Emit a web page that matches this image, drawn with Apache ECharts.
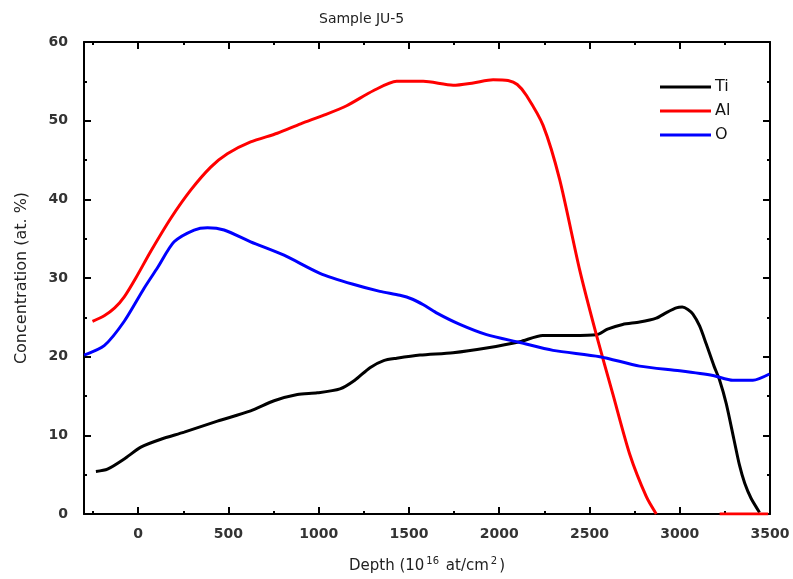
<!DOCTYPE html>
<html>
<head>
<meta charset="utf-8">
<script src="https://cdn.jsdelivr.net/npm/echarts@6/dist/echarts.min.js"></script>
<style>html,body{margin:0;padding:0;background:#fff}#c{width:793px;height:579px}</style>
</head>
<body>
<div id="c"></div>
<script>
// ---- data ----
var tiDepth = [-234,-170,-77,15,126,255,439,623,753,882,992,1118,1200,1284,1360,1432,1561,1744,1930,2114,2241,2400,2540,2600,2684,2778,2870,2926,2981,3014,3045,3073,3110,3147,3190,3221,3258,3300,3331,3360,3395,3442];
var tiConc  = [5.4,5.7,7.0,8.5,9.5,10.4,11.8,13.1,14.4,15.2,15.4,15.9,17.0,18.6,19.5,19.8,20.2,20.5,21.1,21.9,22.7,22.7,22.8,23.5,24.1,24.4,24.9,25.6,26.2,26.3,26.0,25.4,23.9,21.6,18.8,17.0,14.0,9.5,6.2,3.9,2.0,0.2];

var alDepth = [-253,-188,-130,-77,-13,70,181,292,402,494,623,771,900,1029,1155,1302,1432,1579,1745,1856,1966,2049,2100,2151,2243,2335,2446,2538,2630,2723,2815,2870,3000,3221,3490];
var alConc  = [24.5,25.2,26.2,27.6,30.0,33.4,37.6,41.2,44.1,45.8,47.3,48.4,49.6,50.7,51.9,53.8,55.0,55.0,54.5,54.8,55.2,55.1,54.6,53.2,49.4,42.5,31.0,22.8,15.2,7.6,2.2,0.0,null,0.0,0.0];

var oDepth = [-299,-188,-77,33,107,199,310,384,476,623,808,1007,1191,1339,1450,1520,1580,1650,1782,1930,2114,2298,2557,2778,3000,3184,3294,3405,3497];
var oConc  = [20.2,21.4,24.5,28.7,31.3,34.6,36.1,36.4,36.1,34.6,32.9,30.6,29.2,28.3,27.8,27.3,26.6,25.6,24.1,22.8,21.8,20.8,20.0,18.8,18.2,17.6,17.0,17.0,17.8];

var xMajorTicks = [0,500,1000,1500,2000,2500,3000,3500];
var xMinorTicks = [-250,250,750,1250,1750,2250,2750,3250];
var seriesNames = ['Ti','Al','O'];
var seriesColors = ['#000000','#ff0000','#0000ff'];

function pairs(xs, ys){
  return xs.map(function(x,i){ return [x, ys[i] === null ? '-' : ys[i]]; });
}

var chart = echarts.init(document.getElementById('c'));
var lineStyle = {color:'#000', width:2};
var plain = function(v){ return String(v); };

function xAx(pos, ticks, len, showLine, showLabel, extra){
  var a = {
    type:'value', position:pos, min:-300, max:3500,
    axisLine:{show:showLine, onZero:false, lineStyle:lineStyle},
    axisTick:{show:true, inside:true, length:len, customValues:ticks, lineStyle:{color:'#000', width:2}},
    axisLabel:{show:showLabel, customValues:ticks, formatter:plain, margin:13, fontFamily:'DejaVu Sans', fontSize:14, color:'#333', fontWeight:'bold'},
    splitLine:{show:false}
  };
  if (extra) for (var k in extra) a[k] = extra[k];
  return a;
}
function yAx(pos, showLabel, extra){
  var a = {
    type:'value', position:pos, min:0, max:60, interval:10,
    axisLine:{show:true, onZero:false, lineStyle:lineStyle},
    axisTick:{show:true, inside:true, length:7, lineStyle:{color:'#000', width:2}},
    minorTick:{show:true, splitNumber:2, length:3, lineStyle:{color:'#000', width:2}},
    axisLabel:{show:showLabel, formatter:plain, margin:16, fontFamily:'DejaVu Sans', fontSize:14, color:'#333', fontWeight:'bold'},
    splitLine:{show:false}
  };
  if (extra) for (var k in extra) a[k] = extra[k];
  return a;
}

var option = {
  animation:false,
  backgroundColor:'#fff',
  title:{text:'Sample JU-5', left:314, top:7, textStyle:{fontFamily:'DejaVu Sans', fontSize:14, fontWeight:'normal', color:'#222'}},
  grid:{left:84, right:23, top:42, bottom:62, containLabel:false},
  legend:{
    data:seriesNames, orient:'vertical', left:660, top:79, padding:0,
    icon:'rect', itemWidth:51, itemHeight:3, itemGap:8,
    textStyle:{fontFamily:'DejaVu Sans', fontSize:16, color:'#111', padding:[0,0,0,-1]}
  },
  xAxis:[
    xAx('bottom', xMajorTicks, 7, true, true, {
      name:'{n|Depth (10}{sup|16}{n| at/cm}{sup|2}{n|)}', nameLocation:'middle', nameGap:42,
      nameTextStyle:{
        rich:{
          n:{fontFamily:'DejaVu Sans', fontSize:15, color:'#222', verticalAlign:'bottom'},
          sup:{fontFamily:'DejaVu Sans', fontSize:10, color:'#222', verticalAlign:'bottom', padding:[0,2,8,2]}
        }}
    }),
    xAx('bottom', xMinorTicks, 3, false, false),
    xAx('top', xMajorTicks, 7, true, false),
    xAx('top', xMinorTicks, 3, false, false)
  ],
  yAxis:[
    yAx('left', true, {name:'Concentration (at. %)', nameLocation:'middle', nameGap:54,
      nameTextStyle:{fontFamily:'DejaVu Sans', fontSize:16, color:'#222'}}),
    yAx('right', false)
  ],
  series:[
    {name:seriesNames[0], type:'line', data:pairs(tiDepth, tiConc), showSymbol:false, symbol:'none', smooth:0.25, lineStyle:{color:seriesColors[0], width:3}, itemStyle:{color:seriesColors[0]}},
    {name:seriesNames[1], type:'line', data:pairs(alDepth, alConc), showSymbol:false, symbol:'none', smooth:0.25, lineStyle:{color:seriesColors[1], width:3}, itemStyle:{color:seriesColors[1]}},
    {name:seriesNames[2], type:'line', data:pairs(oDepth, oConc), showSymbol:false, symbol:'none', smooth:0.25, lineStyle:{color:seriesColors[2], width:3}, itemStyle:{color:seriesColors[2]}}
  ]
};
chart.setOption(option);
</script>
</body>
</html>
